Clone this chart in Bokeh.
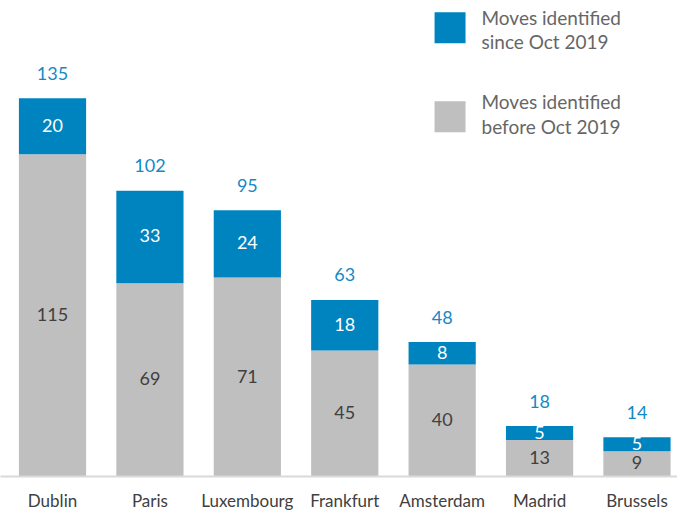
from bokeh.plotting import figure
from bokeh.models import ColumnDataSource, Range1d, FixedTicker, BoxAnnotation
from bokeh.core.properties import value
from bokeh.embed import file_html
from bokeh.resources import INLINE

# ---- data ----
cities = ["Dublin", "Paris", "Luxembourg", "Frankfurt", "Amsterdam", "Madrid", "Brussels"]
before_oct_2019 = [115, 69, 71, 45, 40, 13, 9]
since_oct_2019 = [20, 33, 24, 18, 8, 5, 5]
totals = [135, 102, 95, 63, 48, 18, 14]
legend_labels = [["Moves identified", "since Oct 2019"], ["Moves identified", "before Oct 2019"]]

BLUE = "#0084bf"
GREY = "#bfbfbf"
TOTAL_BLUE = "#1589c6"
DARK = "#404040"
LEGEND_TXT = "#666666"
FONT = "Lato"

xs = list(range(len(cities)))
src = ColumnDataSource(dict(
    x=xs,
    before=before_oct_2019,
    since=since_oct_2019,
    total=totals,
    mid_before=[b / 2 for b in before_oct_2019],
    mid_since=[b + s / 2 for b, s in zip(before_oct_2019, since_oct_2019)],
    before_txt=[str(v) for v in before_oct_2019],
    since_txt=[str(v) for v in since_oct_2019],
    total_txt=[str(v) for v in totals],
))

p = figure(width=677, height=513,
           x_range=Range1d(-0.534, 6.416), y_range=Range1d(0, 169.9),
           output_backend="svg", toolbar_location=None,
           y_axis_location=None,
           min_border_left=0, min_border_right=0, min_border_top=0, min_border_bottom=36)
p.outline_line_color = None
p.grid.visible = False
p.background_fill_color = "white"
p.border_fill_color = "white"

p.vbar(x="x", bottom=0, top="before", width=0.69, source=src,
       fill_color=GREY, line_color=None)
p.vbar(x="x", bottom="before", top="total", width=0.69, source=src,
       fill_color=BLUE, line_color=None)

p.text(x="x", y="mid_before", text="before_txt", source=src, y_offset=-1,
       text_font=value(FONT), text_font_size="18px", text_color=DARK,
       text_align="center", text_baseline="middle")
p.text(x="x", y="mid_since", text="since_txt", source=src, y_offset=-1,
       text_font=value(FONT), text_font_size="18px", text_color="white",
       text_align="center", text_baseline="middle")
p.text(x="x", y="total", text="total_txt", source=src, y_offset=-25,
       text_font=value(FONT), text_font_size="18px", text_color=TOTAL_BLUE,
       text_align="center", text_baseline="middle")

# legend (manual)
p.add_layout(BoxAnnotation(left=3.922, right=4.240, top=165.7, bottom=154.6,
                           fill_color=BLUE, fill_alpha=1.0, line_color=None))
p.add_layout(BoxAnnotation(left=3.922, right=4.240, top=133.95, bottom=122.9,
                           fill_color=GREY, fill_alpha=1.0, line_color=None))
leg_x = [4.404] * 4
leg_y = [163.8, 155.1, 133.9, 124.8]
leg_text = legend_labels[0] + legend_labels[1]
p.text(x=leg_x, y=leg_y, text=leg_text,
       text_font=value(FONT), text_font_size="19px", text_color=LEGEND_TXT,
       text_font_style="normal",
       text_align="left", text_baseline="middle")

ax = p.xaxis[0]
ax.ticker = FixedTicker(ticks=xs)
ax.major_label_overrides = {i: c for i, c in zip(xs, cities)}
ax.major_tick_line_color = None
ax.minor_tick_line_color = None
ax.major_tick_out = 0
ax.major_tick_in = 0
ax.minor_tick_out = 0
ax.axis_line_color = "#d9d9d9"
ax.axis_line_width = 2
ax.major_label_standoff = 13
ax.major_label_text_font = FONT
ax.major_label_text_font_style = "normal"
ax.major_label_text_font_size = "17px"
ax.major_label_text_color = DARK

open("out.html", "w").write(file_html(p, INLINE))
